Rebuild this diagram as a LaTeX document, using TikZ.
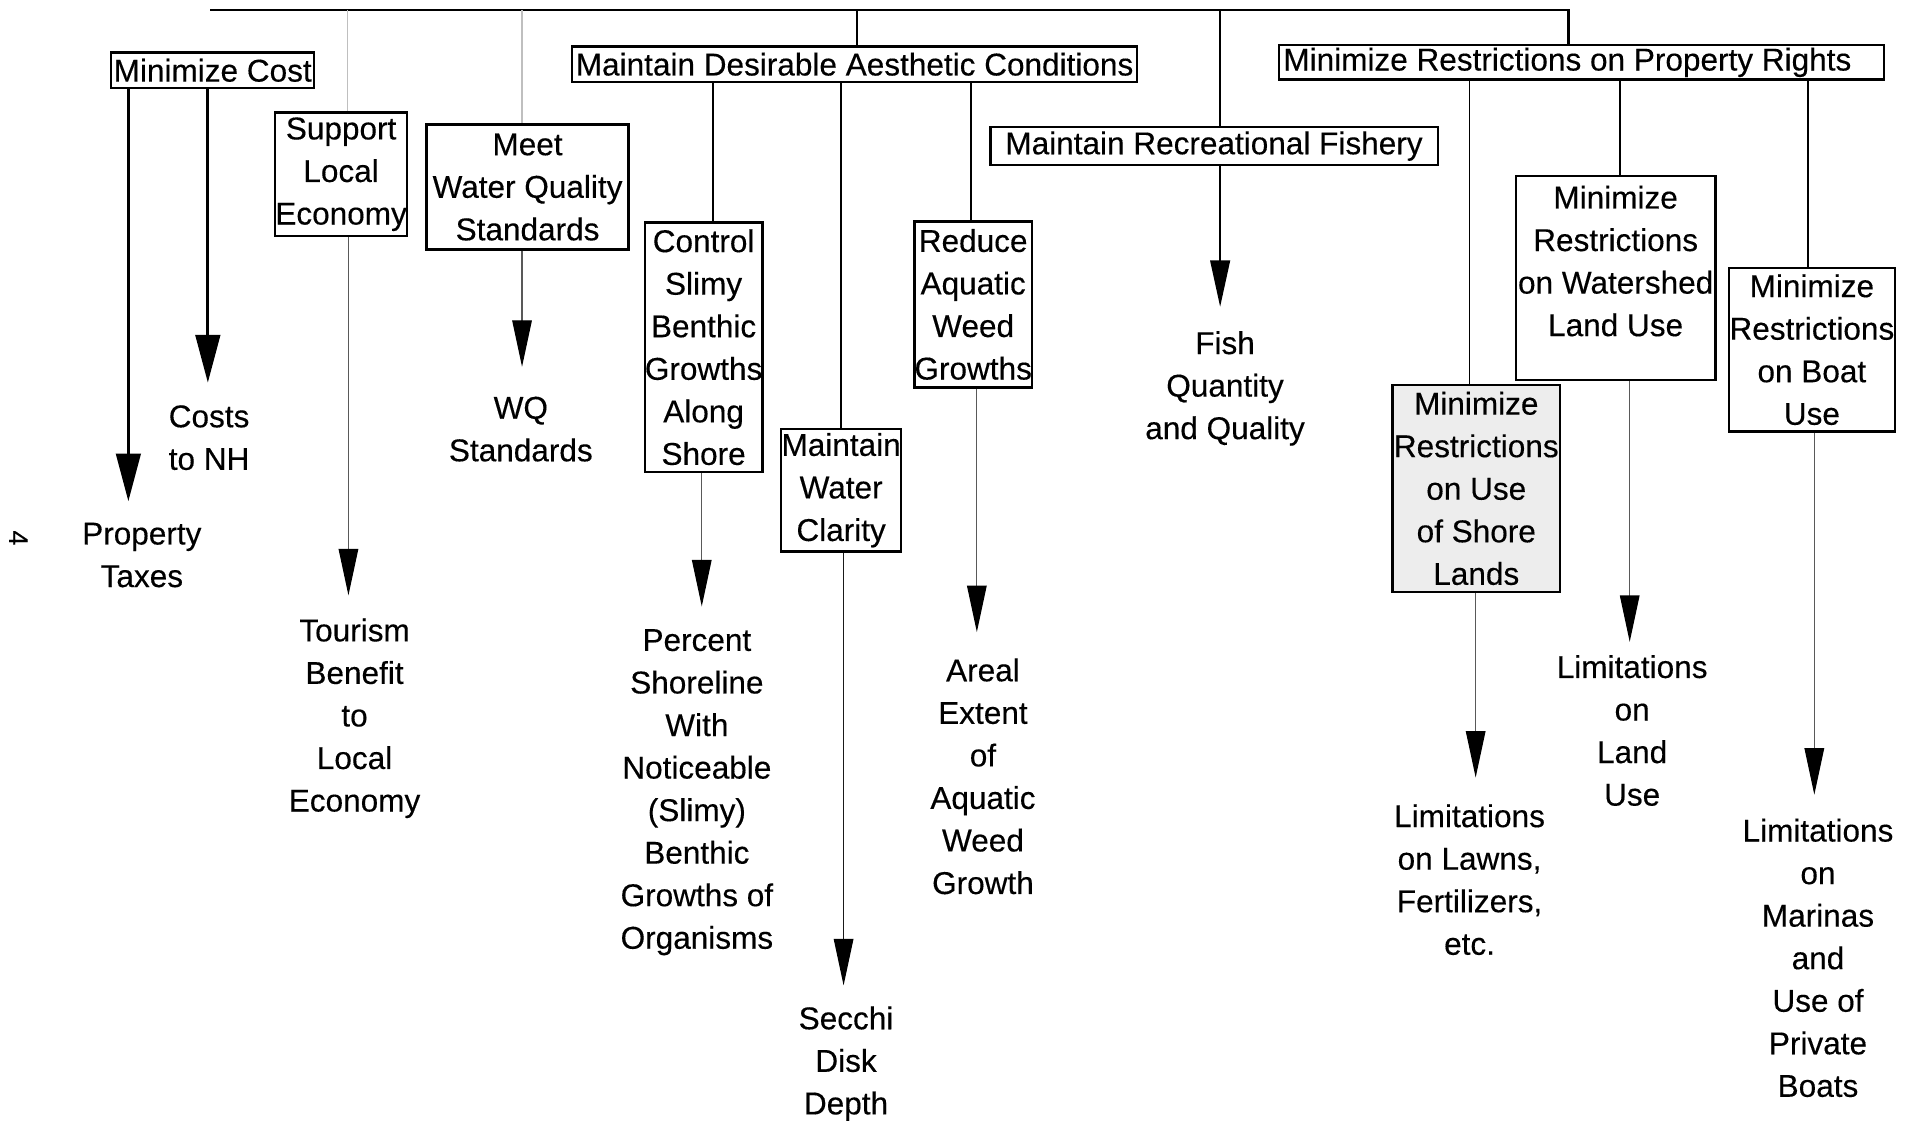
\documentclass[tikz,border=0pt]{standalone}
\usepackage{fontspec}
\setmainfont{Liberation Sans}[FakeBold=0.3]
\usetikzlibrary{arrows.meta}
\begin{document}
\begin{tikzpicture}[x=0.5pt,y=-0.5pt,
  every node/.style={font=\fontsize{12.9}{17.4}\selectfont, align=center, inner sep=0pt},
  box/.style={draw, line width=1pt},
  busline/.style={line width=1pt},
  link/.style={line width=0.7pt},
  ghost/.style={line width=0.5pt, black!25},
  bigarr/.style={line width=1.3pt, -{Triangle[width=10pt,length=19.5pt]}},
  fisharr/.style={line width=1pt, -{Triangle[width=8pt,length=19pt]}},
  arr/.style={line width=0.5pt, black!65, -{Triangle[width=8pt,length=19pt,color=black]}},
]
\useasboundingbox (0,0) rectangle (1568,921);
\fill[white] (0,0) rectangle (1568,921);

% boxes
\node[box, minimum width=83pt, minimum height=14.5pt] (mincost) at (174,57.5) {Minimize Cost};
\node[box, minimum width=54pt, minimum height=50.5pt] (support) at (279,142.5) {Support\\Local\\Economy};
\node[box, minimum width=82.5pt, minimum height=51pt] (meetwq) at (431.5,153) {Meet\\Water Quality\\Standards};
\node[box, minimum width=231pt, minimum height=14.5pt] (aesth) at (699,52.5) {Maintain Desirable Aesthetic Conditions};
\node[box, minimum width=47.5pt, minimum height=102pt] (control) at (575.5,284) {Control\\Slimy\\Benthic\\Growths\\Along\\Shore};
\node[box, minimum width=49pt, minimum height=50pt] (clarity) at (688,401) {Maintain\\Water\\Clarity};
\node[box, minimum width=48pt, minimum height=68pt] (weed) at (796,249) {Reduce\\Aquatic\\Weed\\Growths};
\node[box, minimum width=183pt, minimum height=15.5pt] (fishery) at (993,119.5) {Maintain Recreational Fishery};
\node[box, minimum width=247.5pt, minimum height=14pt] (property) at (1293.5,51) {};
\node (propertytext) at (1282,51) {Minimize Restrictions on Property Rights};
\node[box, minimum width=81.5pt, minimum height=83.5pt] (watershed) at (1321.5,227.5) {};
\node (watershedtext) at (1321.5,213.5) {Minimize\\Restrictions\\on Watershed\\Land Use};
\node[box, fill=black!7, minimum width=68.5pt, minimum height=84.5pt] (shore) at (1207.5,399.5) {Minimize\\Restrictions\\on Use\\of Shore\\Lands};
\node[box, minimum width=68pt, minimum height=67pt] (boat) at (1482,286) {Minimize\\Restrictions\\on Boat\\Use};

% leaves
\node (proptax) at (116,454) {Property\\Taxes};
\node (costsnh) at (171,358) {Costs\\to NH};
\node (tourism) at (290,587.5) {Tourism\\Benefit\\to\\Local\\Economy};
\node (wqstd) at (426,351) {WQ\\Standards};
\node (percent) at (570,648) {Percent\\Shoreline\\With\\Noticeable\\(Slimy)\\Benthic\\Growths of\\Organisms};
\node (secchi) at (692,870) {Secchi\\Disk\\Depth};
\node (areal) at (804,635) {Areal\\Extent\\of\\Aquatic\\Weed\\Growth};
\node (fish) at (1002,317.7) {Fish\\Quantity\\and Quality};
\node (lawns) at (1202,719.5) {Limitations\\on Lawns,\\Fertilizers,\\etc.};
\node (landuse) at (1335,597.5) {Limitations\\on\\Land\\Use};
\node (marinas) at (1487,783.5) {Limitations\\on\\Marinas\\and\\Use of\\Private\\Boats};
\node[rotate=-90, font=\fontsize{11}{13}\selectfont] (pagenum) at (15,440) {4};

% bus
\coordinate (busL) at (172,8);
\coordinate (busR) at (1283,8);
\coordinate (busA) at (701,8);
\coordinate (busF) at (998,8);
\coordinate (busS) at (284,8);
\coordinate (busW) at (427,8);
\draw[busline] (busL) -- (busR) -- (busR |- property.north);
\draw[link] (busA) -- (busA |- aesth.north);
\draw[link] (busF) -- (busF |- fishery.north);
\draw[ghost] (busS) -- (busS |- support.north);
\draw[ghost] (busW) -- (busW |- meetwq.north);

% minimize cost arrows
\coordinate (tPT) at (105,410);
\coordinate (tNH) at (170,313);
\draw[bigarr] (tPT |- mincost.south) -- (tPT);
\draw[bigarr] (tNH |- mincost.south) -- (tNH);

\coordinate (tTO) at (285,487);
\draw[arr] (tTO |- support.south) -- (tTO);
\coordinate (tWQ) at (427,300);
\draw[arr] (tWQ |- meetwq.south) -- (tWQ);

% aesthetic children
\coordinate (xC) at (583,0);
\coordinate (xW) at (688,0);
\coordinate (xR) at (794,0);
\draw[link] (xC |- aesth.south) -- (xC |- control.north);
\draw[link] (xW |- aesth.south) -- (xW |- clarity.north);
\draw[link] (xR |- aesth.south) -- (xR |- weed.north);
\coordinate (tPC) at (574,496);
\coordinate (tSE) at (690,806);
\coordinate (tAR) at (799,517);
\draw[arr] (tPC |- control.south) -- (tPC);
\draw[arr, black!90] (tSE |- clarity.south) -- (tSE);
\draw[arr] (tAR |- weed.south) -- (tAR);

% fishery
\coordinate (tFI) at (998,251);
\draw[fisharr] (tFI |- fishery.south) -- (tFI);

% property rights children
\coordinate (xS) at (1202,0);
\coordinate (xL) at (1325,0);
\coordinate (xB) at (1479,0);
\draw[link] (xS |- property.south) -- (xS |- shore.north);
\draw[link] (xL |- property.south) -- (xL |- watershed.north);
\draw[link] (xB |- property.south) -- (xB |- boat.north);
\coordinate (tLA) at (1207,636);
\coordinate (tLU) at (1333,525);
\coordinate (tMA) at (1484,650);
\draw[arr] (tLA |- shore.south) -- (tLA);
\draw[arr] (tLU |- watershed.south) -- (tLU);
\draw[arr] (tMA |- boat.south) -- (tMA);
\end{tikzpicture}
\end{document}
